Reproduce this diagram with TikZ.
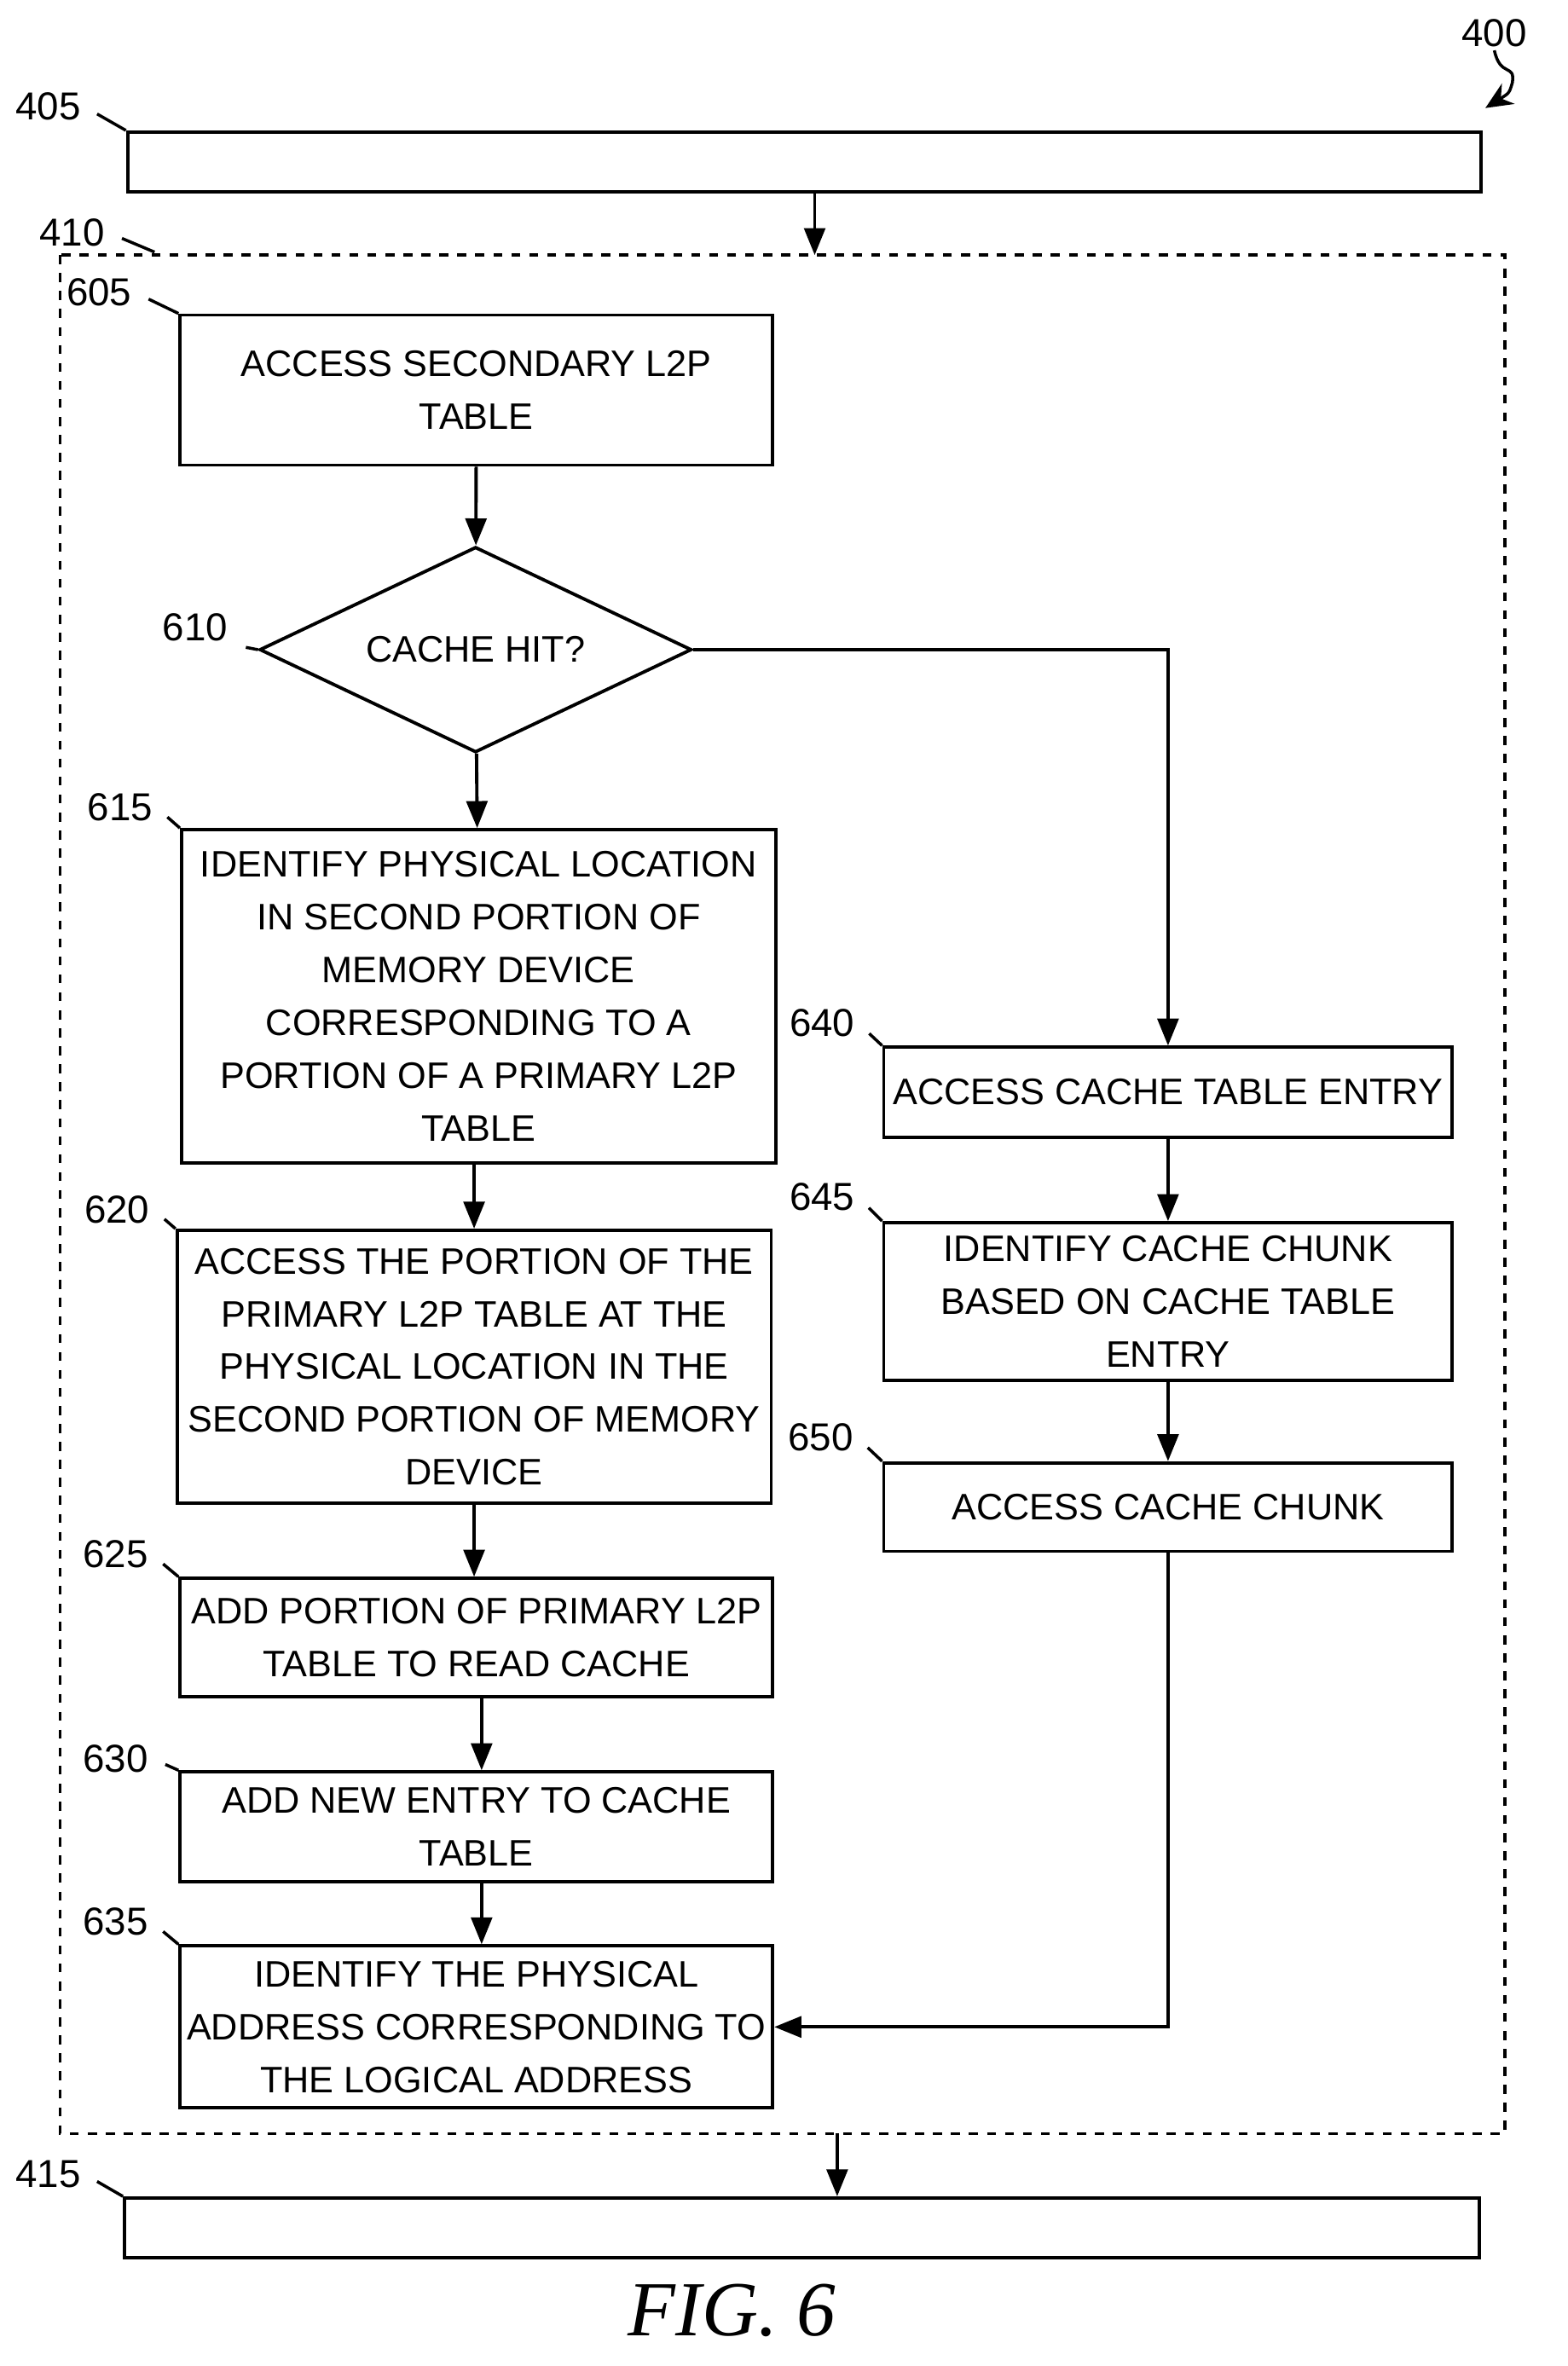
\documentclass[tikz,border=0pt]{standalone}
\usepackage{fontspec}
\setmainfont{Liberation Sans}
\newfontfamily\figfont{Liberation Serif}
\usetikzlibrary{shapes.geometric,arrows.meta}
\tikzset{
  box/.style={draw, line width=1.1pt, align=center, inner sep=0pt, font=\fontsize{12.3}{17.6}\selectfont},
  ref/.style={font=\fontsize{13}{16}\selectfont, inner sep=1pt},
  lead/.style={line width=1pt, shorten <=5pt},
  flow/.style={line width=1.1pt, -{Triangle[length=9pt,width=7pt]}}
}
\begin{document}
\begin{tikzpicture}[x=0.0176cm, y=-0.0176cm]
        \useasboundingbox (0,0) rectangle (1045,1577);
        % outer steps
        \node[box, minimum width=902*0.0176cm, minimum height=40*0.0176cm] (b405) at (536,108) {};
        \node[box, minimum width=903*0.0176cm, minimum height=40*0.0176cm] (b415) at (534.5,1485) {};
        \draw[dashed, line width=1pt] (40,170) coordinate (dnw) rectangle (1003,1422) coordinate (dse);
        \coordinate (dtop) at (543,170);
        \coordinate (dbot) at (558,1422);

        % left column
        \node[box, minimum width=395*0.0176cm, minimum height=100*0.0176cm] (b605) at (317.5,260) {ACCESS SECONDARY L2P\\TABLE};
        \node[box, diamond, aspect=2.1, minimum width=288*0.0176cm, minimum height=137*0.0176cm] (d610) at (317,433) {CACHE HIT?};
        \node[box, minimum width=396*0.0176cm, minimum height=222*0.0176cm] (b615) at (319,664) {IDENTIFY PHYSICAL LOCATION\\IN SECOND PORTION OF\\MEMORY DEVICE\\CORRESPONDING TO A\\PORTION OF A PRIMARY L2P\\TABLE};
        \node[box, minimum width=396*0.0176cm, minimum height=182*0.0176cm] (b620) at (316,911) {ACCESS THE PORTION OF THE\\PRIMARY L2P TABLE AT THE\\PHYSICAL LOCATION IN THE\\SECOND PORTION OF MEMORY\\DEVICE};
        \node[box, minimum width=395*0.0176cm, minimum height=79*0.0176cm] (b625) at (317.5,1091.5) {ADD PORTION OF PRIMARY L2P\\TABLE TO READ CACHE};
        \node[box, minimum width=395*0.0176cm, minimum height=73*0.0176cm] (b630) at (317.5,1217.5) {ADD NEW ENTRY TO CACHE\\TABLE};
        \node[box, minimum width=395*0.0176cm, minimum height=108*0.0176cm] (b635) at (317.5,1351) {IDENTIFY THE PHYSICAL\\ADDRESS CORRESPONDING TO\\THE LOGICAL ADDRESS};

        % right column
        \node[box, minimum width=379*0.0176cm, minimum height=60*0.0176cm] (b640) at (778.5,728) {ACCESS CACHE TABLE ENTRY};
        \node[box, minimum width=379*0.0176cm, minimum height=105*0.0176cm] (b645) at (778.5,867.5) {IDENTIFY CACHE CHUNK\\BASED ON CACHE TABLE\\ENTRY};
        \node[box, minimum width=379*0.0176cm, minimum height=59*0.0176cm] (b650) at (778.5,1004.5) {ACCESS CACHE CHUNK};

        % reference numerals
        \node[ref] (l400) at (996,22) {400};
        \node[ref] (l405) at (32,71) {405};
        \node[ref] (l410) at (48,155) {410};
        \node[ref] (l415) at (32,1449) {415};
        \node[ref] (l605) at (66,195) {605};
        \node[ref] (l610) at (130,418) {610};
        \node[ref] (l615) at (80,538) {615};
        \node[ref] (l620) at (78,806) {620};
        \node[ref] (l625) at (77,1036) {625};
        \node[ref] (l630) at (77,1172) {630};
        \node[ref] (l635) at (77,1281) {635};
        \node[ref] (l640) at (548,682) {640};
        \node[ref] (l645) at (548,798) {645};
        \node[ref] (l650) at (547,958) {650};
        \node[font=\figfont\itshape\fontsize{26}{30}\selectfont] (fig) at (488,1540) {FIG. 6};

        % leaders
        \draw[lead] (l405.east) -- (b405.north west);
        \draw[lead] (l410.east) -- (103,168);
        \draw[lead] (l415.east) -- (b415.north west);
        \draw[lead] (l605.east) -- (b605.north west);
        \draw[lead] (l610.south east) -- (d610.west);
        \draw[lead] (l615.east) -- (b615.north west);
        \draw[lead] (l620.east) -- (b620.north west);
        \draw[lead] (l625.east) -- (b625.north west);
        \draw[lead] (l630.east) -- (b630.north west);
        \draw[lead] (l635.east) -- (b635.north west);
        \draw[lead] (l640.east) -- (b640.north west);
        \draw[lead] (l645.east) -- (b645.north west);
        \draw[lead] (l650.east) -- (b650.north west);
        \draw[line width=1pt, -{Stealth[length=9pt,width=8pt]}]
            (l400.south) .. controls (1000,52) and (1010,42) .. (1008,55)
            .. controls (1006,62) .. (990,72);

        % connectors
        \draw[flow] (b405.south -| dtop) -- (dtop);
        \draw[flow] (b605) -- (d610);
        \draw[flow] (d610) -- (b615);
        \draw[flow] (b615.south -| 316,0) -- (b620.north -| 316,0);
        \draw[flow] (b620.south -| 316,0) -- (b625.north -| 316,0);
        \draw[flow] (b625.south -| 321,0) -- (b630.north -| 321,0);
        \draw[flow] (b630.south -| 321,0) -- (b635.north -| 321,0);
        \draw[flow] (d610.east) -| (b640.north);
        \draw[flow] (b640) -- (b645);
        \draw[flow] (b645) -- (b650);
        \draw[flow] (b650.south) |- (b635.east);
        \draw[flow] (dbot) -- (b415.north -| dbot);
\end{tikzpicture}
\end{document}
